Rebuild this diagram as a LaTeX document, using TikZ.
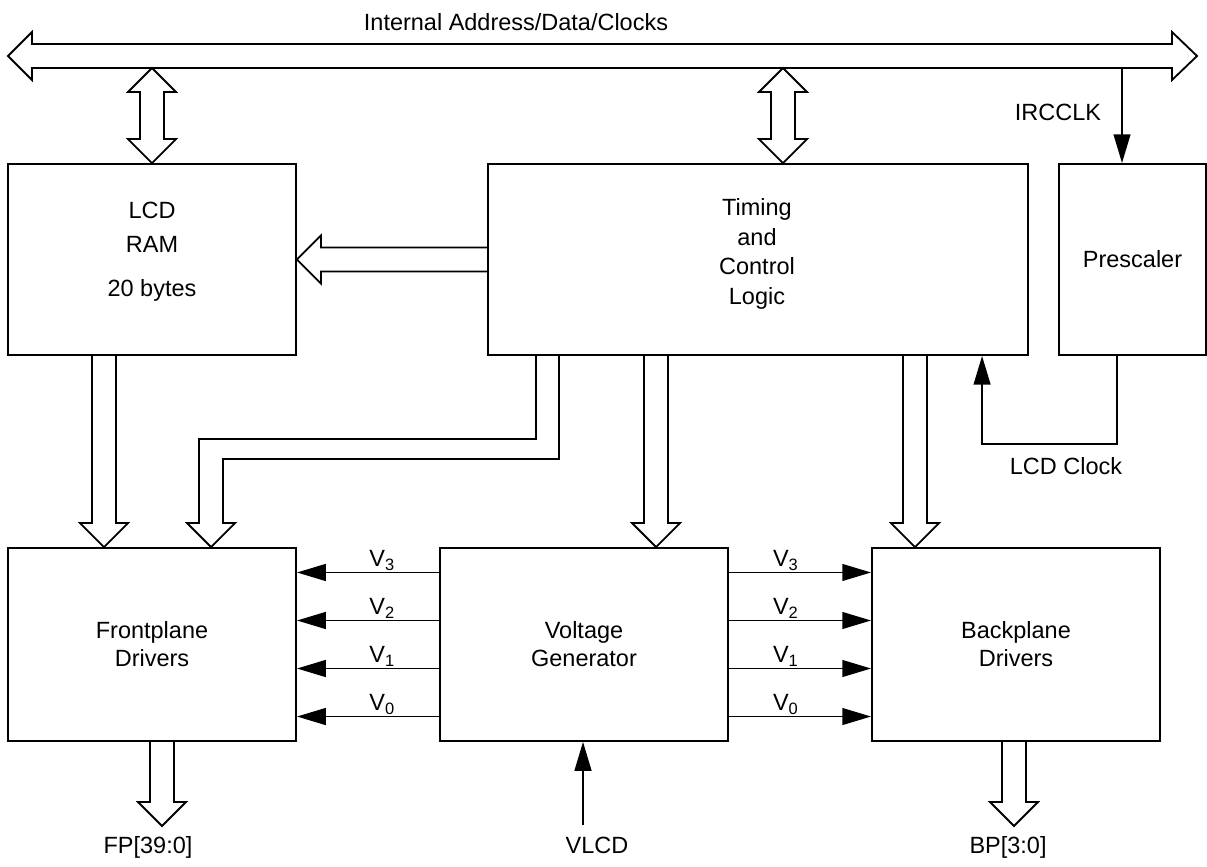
\documentclass[tikz,border=0pt]{standalone}
\usepackage{fontspec}
\setmainfont{Liberation Sans}
\usetikzlibrary{calc, positioning, arrows.meta}
\tikzset{
  lcdfig/.style={font=\fontsize{16.7}{19.9}\selectfont, x=0.025cm, y=-0.025cm},
  wire/.style={line width=1.3pt, line join=miter},
  blk/.style={draw, wire, align=center, inner sep=0pt},
  sig/.style={wire, -{Triangle[length=0.72cm, width=0.42cm]}},
  vlbl/.style={above, inner sep=1pt},
}
\def\ShaftW{0.3cm}
\def\HeadW{0.6cm}
\def\HeadL{0.6cm}
% hollow bus arrows: #1 = start, #2 = tip
\newcommand\ArrDown[2]{%
  \draw[wire] let \p1=#1, \p2=#2 in
    (\x2-\ShaftW,\y1) -- (\x2-\ShaftW,\y2+\HeadL) -- (\x2-\HeadW,\y2+\HeadL) -- (\x2,\y2)
    -- (\x2+\HeadW,\y2+\HeadL) -- (\x2+\ShaftW,\y2+\HeadL) -- (\x2+\ShaftW,\y1);}
\newcommand\ArrLeft[2]{%
  \draw[wire] let \p1=#1, \p2=#2 in
    (\x1,\y2+\ShaftW) -- (\x2+\HeadL,\y2+\ShaftW) -- (\x2+\HeadL,\y2+\HeadW) -- (\x2,\y2)
    -- (\x2+\HeadL,\y2-\HeadW) -- (\x2+\HeadL,\y2-\ShaftW) -- (\x1,\y2-\ShaftW);}
\newcommand\ArrBoth[2]{%
  \draw[wire] let \p1=#1, \p2=#2 in
    (\x1,\y1) -- (\x1+\HeadW,\y1-\HeadL) -- (\x1+\ShaftW,\y1-\HeadL) -- (\x1+\ShaftW,\y2+\HeadL)
    -- (\x1+\HeadW,\y2+\HeadL) -- (\x1,\y2) -- (\x1-\HeadW,\y2+\HeadL) -- (\x1-\ShaftW,\y2+\HeadL)
    -- (\x1-\ShaftW,\y1-\HeadL) -- (\x1-\HeadW,\y1-\HeadL) -- cycle;}

\begin{document}
\begin{tikzpicture}[lcdfig]
  \useasboundingbox (0,0) rectangle (1207,866);

  % ----- internal bus -----
  \coordinate (busW) at (8,56);
  \coordinate (busE) at (1197,56);
  \coordinate (busS) at (0,68);
  \draw[wire] (busW) -- ++(24,-24) -- ++(0,12) -- ($(busE)+(-25,-12)$) -- ++(0,-12)
    -- (busE) -- ++(-25,24) -- ++(0,-12) -- ($(busW)+(24,12)$) -- ++(0,12) -- cycle;
  \node (buslbl) at (516,22) {Internal Address/Data/Clocks};

  % ----- blocks -----
  \node[blk, minimum width=7.2cm, minimum height=4.775cm] (ram) at (152,259.5) {};
  \node[align=center] (ramtxt) at (152,252) {LCD\\[4pt]RAM\\[12pt]20 bytes};
  \node[blk, minimum width=13.5cm, minimum height=4.775cm] (timing) at (758,259.5) {};
  \node[align=center] (timtxt) at (757,254) {Timing\\[1pt]and\\[1pt]Control\\[1pt]Logic};
  \node[blk, minimum width=3.675cm, minimum height=4.775cm] (presc) at (1132.5,259.5)
    {Prescaler};
  \node[blk, minimum width=7.2cm, minimum height=4.825cm] (fp) at (152,644.5)
    {Frontplane\\Drivers};
  \node[blk, minimum width=7.2cm, minimum height=4.825cm] (vg) at (584,644.5)
    {Voltage\\Generator};
  \node[blk, minimum width=7.2cm, minimum height=4.825cm] (bp) at (1016,644.5)
    {Backplane\\Drivers};

  % ----- bus taps -----
  \coordinate (busT) at (783,68);
  \ArrBoth{(ram.north |- busS)}{(ram.north)}
  \ArrBoth{(busT)}{(busT |- timing.north)}

  % ----- clocks -----
  \coordinate (irc) at (1122,68);
  \draw[sig] (irc) -- (irc |- presc.north);
  \node (irclbl) at (1058,112) {IRCCLK};
  \draw[sig] ([xshift=-0.39cm]presc.south) -- ++(0,88) -| ([xshift=5.6cm]timing.south);
  \node (clklbl) at (1066,466) {LCD Clock};

  % ----- data paths -----
  \ArrLeft{(timing.west)}{(ram.east)}
  \ArrDown{([xshift=-1.2cm]ram.south)}{([xshift=-1.2cm]fp.north)}
  \ArrDown{([xshift=-2.55cm]timing.south)}{([xshift=1.8cm]vg.north)}
  \ArrDown{([xshift=3.925cm]timing.south)}{([xshift=-2.525cm]bp.north)}
  \draw[wire] ($(timing.south west)+(49,0)$) |- ($(fp.north west)+(192,-108)$)
    -- ($(fp.north west)+(192,-24)$) -- ++(-12,0) -- ($(fp.north west)+(204,0)$)
    -- ++(24,-24) -- ++(-12,0) -- ($(fp.north west)+(216,-88)$) -| ($(timing.south west)+(72,0)$);

  % ----- bias voltages -----
  \foreach \i/\dy in {3/1.8, 2/0.6, 1/-0.6, 0/-1.8} {
    \draw[sig] ([yshift=\dy cm]vg.west) -- ([yshift=\dy cm]fp.east)
      node[vlbl, pos=0.4] {V\textsubscript{\i}};
    \draw[sig] ([yshift=\dy cm]vg.east) -- ([yshift=\dy cm]bp.west)
      node[vlbl, pos=0.4] {V\textsubscript{\i}};
  }

  % ----- pins -----
  \coordinate (fptip) at (162,826);
  \coordinate (bptip) at (1014,826);
  \coordinate (vlcdin) at (583,825);
  \ArrDown{(fptip |- fp.south)}{(fptip)}
  \ArrDown{(bptip |- bp.south)}{(bptip)}
  \draw[sig] (vlcdin) -- (vlcdin |- vg.south);
  \node[anchor=base] (fplbl) at (148,853) {FP[39:0]};
  \node[anchor=base] (vlcdlbl) at (597,853) {VLCD};
  \node[anchor=base] (bplbl) at (1008,853) {BP[3:0]};
\end{tikzpicture}
\end{document}
